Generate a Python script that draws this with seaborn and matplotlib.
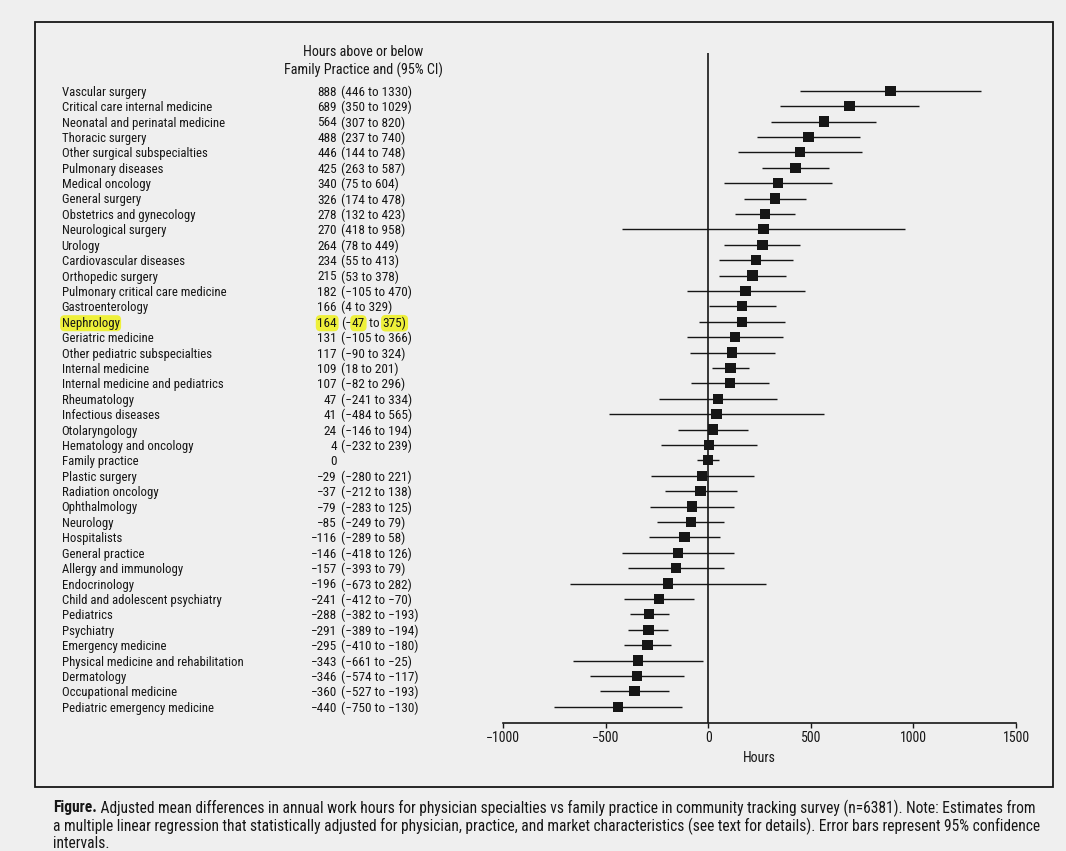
import numpy as np
import pandas as pd
import matplotlib
matplotlib.use("Agg")
import matplotlib.pyplot as plt
import matplotlib.transforms as mtransforms
from matplotlib.patches import Rectangle
from matplotlib import font_manager as fm
import seaborn as sns

# ---------------- data ----------------
specialties = [
    "Vascular surgery", "Critical care internal medicine", "Neonatal and perinatal medicine",
    "Thoracic surgery", "Other surgical subspecialties", "Pulmonary diseases",
    "Medical oncology", "General surgery", "Obstetrics and gynecology",
    "Neurological surgery", "Urology", "Cardiovascular diseases", "Orthopedic surgery",
    "Pulmonary critical care medicine", "Gastroenterology", "Nephrology",
    "Geriatric medicine", "Other pediatric subspecialties", "Internal medicine",
    "Internal medicine and pediatrics", "Rheumatology", "Infectious diseases",
    "Otolaryngology", "Hematology and oncology", "Family practice", "Plastic surgery",
    "Radiation oncology", "Ophthalmology", "Neurology", "Hospitalists",
    "General practice", "Allergy and immunology", "Endocrinology",
    "Child and adolescent psychiatry", "Pediatrics", "Psychiatry", "Emergency medicine",
    "Physical medicine and rehabilitation", "Dermatology", "Occupational medicine",
    "Pediatric emergency medicine",
]
estimates = [888, 689, 564, 488, 446, 425, 340, 326, 278, 270,
             264, 234, 215, 182, 166, 164, 131, 117, 109, 107,
             47, 41, 24, 4, 0, -29, -37, -79, -85, -116,
             -146, -157, -196, -241, -288, -291, -295, -343, -346, -360,
             -440]
ci_lower = [446, 350, 307, 237, 144, 263, 75, 174, 132, -418,
            78, 55, 53, -105, 4, -47, -105, -90, 18, -82,
            -241, -484, -146, -232, -55, -280, -212, -283, -249, -289,
            -418, -393, -673, -412, -382, -389, -410, -661, -574, -527,
            -750]
ci_upper = [1330, 1029, 820, 740, 748, 587, 604, 478, 423, 958,
            449, 413, 378, 470, 329, 375, 366, 324, 201, 296,
            334, 565, 194, 239, 55, 221, 138, 125, 79, 58,
            126, 79, 282, -70, -193, -194, -180, -25, -117, -193,
            -130]
ci_labels = [
    "(446 to 1330)", "(350 to 1029)", "(307 to 820)", "(237 to 740)", "(144 to 748)",
    "(263 to 587)", "(75 to 604)", "(174 to 478)", "(132 to 423)", "(418 to 958)",
    "(78 to 449)", "(55 to 413)", "(53 to 378)", "(\u2212105 to 470)", "(4 to 329)",
    "(\u221247 to 375)", "(\u2212105 to 366)", "(\u221290 to 324)", "(18 to 201)",
    "(\u221282 to 296)", "(\u2212241 to 334)", "(\u2212484 to 565)", "(\u2212146 to 194)",
    "(\u2212232 to 239)", "", "(\u2212280 to 221)", "(\u2212212 to 138)",
    "(\u2212283 to 125)", "(\u2212249 to 79)", "(\u2212289 to 58)", "(\u2212418 to 126)",
    "(\u2212393 to 79)", "(\u2212673 to 282)", "(\u2212412 to \u221270)",
    "(\u2212382 to \u2212193)", "(\u2212389 to \u2212194)", "(\u2212410 to \u2212180)",
    "(\u2212661 to \u221225)", "(\u2212574 to \u2212117)", "(\u2212527 to \u2212193)",
    "(\u2212750 to \u2212130)",
]
x_ticks = [-1000, -500, 0, 500, 1000, 1500]
header = "Hours above or below\nFamily Practice and (95% CI)"
x_label = "Hours"
highlight = "Nephrology"
caption_bold = "Figure."
caption_lines = [
    " Adjusted mean differences in annual work hours for physician specialties vs family practice in community tracking survey (n=6381). Note: Estimates from",
    "a multiple linear regression that statistically adjusted for physician, practice, and market characteristics (see text for details). Error bars represent 95% confidence",
    "intervals.",
]

df = pd.DataFrame({"specialty": specialties, "est": estimates,
                   "lo": ci_lower, "hi": ci_upper})
df["row"] = np.arange(len(df))

# ---------------- style ----------------
sns.set_theme(style="white")
names = {f.name for f in fm.fontManager.ttflist}
FAMILY = "Liberation Sans"
for cand in ["Liberation Sans Narrow", "Arial Narrow", "Nimbus Sans Narrow",
             "Roboto Condensed", "Liberation Sans"]:
    if cand in names:
        FAMILY = cand
        break
plt.rcParams["font.family"] = [FAMILY, "DejaVu Sans"]
plt.rcParams["axes.unicode_minus"] = True

BG = "#efefef"
INK = "#161616"
YEL = "#eef03a"
W, H = 1066, 851

fig = plt.figure(figsize=(W / 100, H / 100), dpi=100, facecolor=BG)
renderer = fig.canvas.get_renderer()


def fit_size(text, target_px, weight="normal"):
    t = fig.text(0, 0, text, fontsize=10, fontweight=weight)
    w = t.get_window_extent(renderer).width
    t.remove()
    return 10 * target_px / w


FS = fit_size("Physical medicine and rehabilitation", 180)
NFS = fit_size("(\u2212750 to \u2212130)", 77)
TFS = fit_size("\u22121000", 34)
XFS = fit_size(x_label, 33)

# axes in pixel geometry
x0, x1 = 503, 1016
ytop, ybot = 53, 723
ax = fig.add_axes([x0 / W, 1 - ybot / H, (x1 - x0) / W, (ybot - ytop) / H])
ax.set_facecolor("none")

row0_px, row_step = 90.7, 15.4
ymax = (ybot - row0_px) / row_step
ymin = (ytop - row0_px) / row_step

ax.hlines(df["row"], df["lo"], df["hi"], color=INK, lw=1.0, zorder=2)
sns.scatterplot(data=df, x="est", y="row", marker="s", s=56, color=INK,
                edgecolor="none", linewidth=0, ax=ax, zorder=3, legend=False)
ax.axvline(0, color=INK, lw=1.2, zorder=1)

ax.set_xlim(-1000, 1500)
ax.set_ylim(ymax, ymin)
ax.set_xticks(x_ticks)
ax.set_yticks([])
ax.set_ylabel("")
ax.set_xlabel(x_label, fontsize=XFS, labelpad=4, color=INK)
for s in ["left", "right", "top"]:
    ax.spines[s].set_visible(False)
ax.spines["bottom"].set_color(INK)
ax.spines["bottom"].set_linewidth(1.2)
ax.tick_params(axis="x", direction="out", length=3.5, width=1, color=INK,
               labelsize=TFS, pad=2.5, labelcolor=INK, bottom=True)

# ---------------- left text table ----------------
trans = mtransforms.blended_transform_factory(fig.transFigure, ax.transData)
label_x = 61.7 / W
est_x = 337 / W
ci_x = 341 / W
bbox_hl = dict(boxstyle="round,pad=0.12,rounding_size=0.35", fc=YEL, ec="none")

for i, (name, est, cil) in enumerate(zip(specialties, estimates, ci_labels)):
    hl = name == highlight
    est_txt = str(est).replace("-", "\u2212")
    ax.text(label_x, i, name, transform=trans, ha="left", va="center_baseline",
            fontsize=FS, color=INK, clip_on=False,
            bbox=bbox_hl if hl else None)
    ax.text(est_x, i, est_txt, transform=trans, ha="right", va="center_baseline",
            fontsize=NFS, color=INK, clip_on=False,
            bbox=bbox_hl if hl else None)
    if not cil:
        continue
    if hl:
        inner = cil[1:-1]
        lo_s, hi_s = inner.split(" to ")
        parts = [("(\u2212", False), (lo_s.replace("\u2212", ""), True),
                 (" to ", False), (hi_s + ")", True)]
        xx = ci_x
        for txt, h in parts:
            t = ax.text(xx, i, txt, transform=trans, ha="left", va="center_baseline",
                        fontsize=NFS, color=INK, clip_on=False,
                        bbox=bbox_hl if h else None)
            bb = t.get_window_extent(renderer)
            xx = bb.x1 / W + (1.0 / W if h else 0)
    else:
        ax.text(ci_x, i, cil, transform=trans, ha="left", va="center_baseline",
                fontsize=NFS, color=INK, clip_on=False)

HFS = fit_size("Family Practice and (95% CI)", 158)
fig.text(363 / W, 1 - 61.5 / H, header, ha="center", va="center",
         fontsize=HFS, color=INK, linespacing=1.3)

# ---------------- frame ----------------
fig.add_artist(Rectangle((35 / W, 1 - 787 / H), (1053 - 35) / W, (787 - 22) / H,
                         transform=fig.transFigure, fill=False, ec=INK, lw=1.3))

# ---------------- caption ----------------
sb = fit_size(caption_bold, 100, "bold")
sr = fit_size(caption_lines[0], 100)
CFS = 9.9 / (1.0 / sb + 1.0 / sr)
CFS = min(CFS, fit_size(caption_lines[1], 985))
cy = [806, 824.5, 842]
tb = fig.text(53 / W, 1 - cy[0] / H, caption_bold, ha="left", va="center_baseline",
              fontsize=CFS, fontweight="bold", color=INK)
bb = tb.get_window_extent(renderer)
fig.text(bb.x1 / W, 1 - cy[0] / H, caption_lines[0], ha="left", va="center_baseline",
         fontsize=CFS, color=INK)
for line, yy in zip(caption_lines[1:], cy[1:]):
    fig.text(53 / W, 1 - yy / H, line, ha="left", va="center_baseline",
             fontsize=CFS, color=INK)

fig.savefig("out.png", dpi=100, facecolor=BG)
